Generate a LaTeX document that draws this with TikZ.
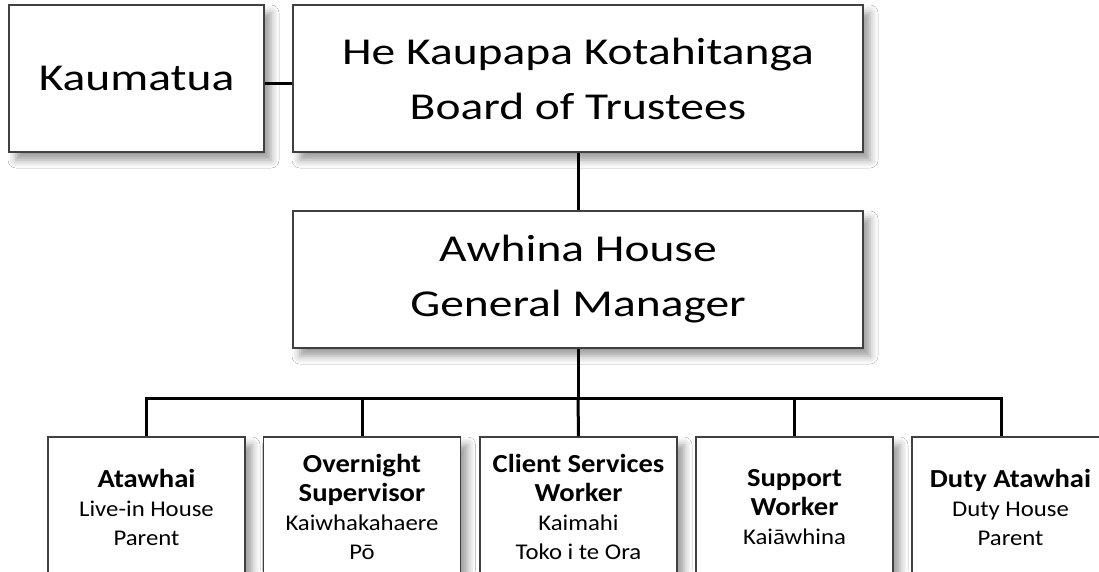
\documentclass[tikz,border=0pt]{standalone}
\usepackage{fontspec}
\setmainfont{Carlito}
\newfontfamily\widefont[FakeStretch=1.25]{Carlito}
\newfontfamily\smallfont[FakeStretch=1.1]{Carlito}
\newcommand{\hd}[1]{\textbf{\fontsize{26}{31}\selectfont #1}}
\usetikzlibrary{shadows.blur}
\begin{document}
\begin{tikzpicture}[x=1pt,y=-1pt,
  box/.style={draw=black!75, line width=1.1pt, fill=white, inner sep=0pt, align=center,
    blur shadow={shadow xshift=7pt, shadow yshift=-8pt, shadow blur radius=8pt, shadow opacity=40}},
  bigtext/.style={font=\widefont\fontsize{38}{55}\selectfont},
  smalltext/.style={font=\smallfont\fontsize{22.5}{29}\selectfont},
  link/.style={line width=3pt, black}]
\clip (0,0) rectangle (1099,571);
\fill[white] (0,0) rectangle (1099,571);
% top level
\node[box, bigtext, minimum width=255pt, minimum height=147pt] (kau) at (136.5,78.5) {\raisebox{-4pt}{Kaumatua}};
\node[box, bigtext, minimum width=570pt, minimum height=147pt] (board) at (578,78.5) {He Kaupapa Kotahitanga\\Board of Trustees};
\node[box, bigtext, minimum width=570pt, minimum height=137pt] (gm) at (578,279.5) {Awhina House\\General Manager};
% bottom level
\node[box, smalltext, minimum width=197pt, minimum height=140pt] (b1) at (146.5,507) {\hd{Atawhai}\\Live-in House\\Parent};
\node[box, smalltext, minimum width=197pt, minimum height=140pt] (b2) at (362,507) {\hd{Overnight}\\\hd{Supervisor}\\Kaiwhakahaere\\Pō};
\node[box, smalltext, minimum width=197pt, minimum height=140pt] (b3) at (578.5,507) {\hd{Client Services}\\\hd{Worker}\\Kaimahi\\Toko i te Ora};
\node[box, smalltext, minimum width=197pt, minimum height=140pt] (b4) at (794.5,507) {\hd{Support}\\\hd{Worker}\\Kaiāwhina};
\node[box, smalltext, minimum width=197pt, minimum height=140pt] (b5) at (1010.5,507) {\hd{Duty Atawhai}\\Duty House\\Parent};
% connectors
\coordinate (hub) at (578,398);
\coordinate (barL) at (146.5,398);
\coordinate (barR) at (1001,398);
\draw[link] ([yshift=-4.5pt]kau.east) -- ([yshift=-4.5pt]board.west);
\draw[link] (board.south) -- (gm.north);
\draw[link] (gm.south) -- (hub);
\draw[link, line cap=rect] (barL) -- (barR);
\draw[link] (barL) -- (b1.north);
\draw[link] (b2.north |- hub) -- (b2.north);
\draw[link] (hub) -- (b3.north);
\draw[link] (b4.north |- hub) -- (b4.north);
\draw[link] (barR) -- (barR |- b5.north);
\end{tikzpicture}
\end{document}
